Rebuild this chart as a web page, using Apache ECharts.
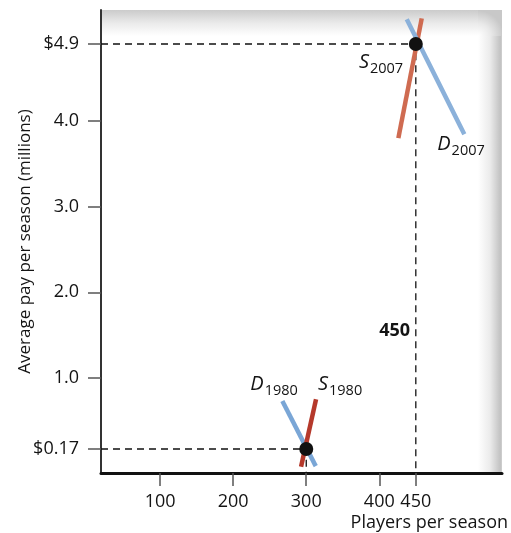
<!DOCTYPE html>
<html>
<head>
<meta charset="utf-8">
<script src="https://cdn.jsdelivr.net/npm/echarts@6/dist/echarts.min.js"></script>
<style>
html,body{margin:0;padding:0;background:#fff;}
#chart{width:511px;height:533px;}
</style>
</head>
<body>
<div id="chart"></div>
<script>
// ---- data ----
const xTicks = [100, 200, 300, 400, 450];
const yTicks = [0.17, 1.0, 2.0, 3.0, 4.0, 4.9];
const yTickLabels = ['$0.17', '1.0', '2.0', '3.0', '4.0', '$4.9'];
const supply2007 = [[426.1, 3.80], [458.1, 5.20]];
const demand2007 = [[437.6, 5.19], [516.4, 3.845]];
const supply1980 = [[292.9, -0.037], [313.4, 0.75]];
const demand1980 = [[267.3, 0.73], [313.0, -0.03]];
const equilibria = [[450, 4.9], [300, 0.17]];
const curveLabels = [
  {name: 'S', sub: '2007', pos: [402.4, 4.666]},
  {name: 'D', sub: '2007', pos: [511.9, 3.70]},
  {name: 'D', sub: '1980', pos: [256, 0.906]},
  {name: 'S', sub: '1980', pos: [346.3, 0.906]}
];
const qtyLabel = {text: '450', pos: [421.0, 1.547]};

const X_MIN = 19, X_MAX = 568, Y_MIN = -0.11, Y_MAX = 5.297;
const FONT = '"Open Sans", "Noto Sans", sans-serif';
const INK = '#141414';

function guide(pt) {
  return [[X_MIN, pt[1]], [pt[0], pt[1]], [pt[0], Y_MIN]];
}

const GRAY = '#c2c2c2';
const chart = echarts.init(document.getElementById('chart'));
const lineBase = {type: 'line', showSymbol: false, symbol: 'none', silent: true, animation: false};
chart.setOption({
  animation: false,
  grid: {left: 101, right: 9, top: 10, bottom: 60, containLabel: false, outerBoundsMode: 'none'},
  graphic: [
    {type: 'rect', z: -10, shape: {x: 101, y: 10, width: 377, height: 26},
     style: {fill: new echarts.graphic.LinearGradient(0, 0, 0, 1, [
       {offset: 0, color: '#cbcbcb'}, {offset: 0.5, color: '#eaeaea'}, {offset: 1, color: '#ffffff'}])}},
    {type: 'rect', z: -10, shape: {x: 478, y: 36, width: 24, height: 437},
     style: {fill: new echarts.graphic.LinearGradient(0, 0, 1, 0, [
       {offset: 0, color: '#ffffff'}, {offset: 0.5, color: '#ebebeb'}, {offset: 0.93, color: GRAY}, {offset: 1, color: '#d0d0d0'}])}},
    {type: 'rect', z: -10, shape: {x: 478, y: 10, width: 24, height: 26},
     style: {fill: new echarts.graphic.RadialGradient(0, 1, 1.05, [
       {offset: 0, color: '#ffffff'}, {offset: 0.5, color: '#e9e9e9'}, {offset: 1, color: '#c8c8c8'}])}},
    {type: 'text', z: 10, style: {text: 'Players per season', x: 508, y: 523, align: 'right', verticalAlign: 'middle',
      fontSize: 18, fontFamily: FONT, fill: INK}}
  ],
  xAxis: {
    type: 'value', min: X_MIN, max: X_MAX,
    axisLine: {onZero: false, lineStyle: {color: '#111', width: 3}},
    axisTick: {show: true, customValues: xTicks, length: 13, lineStyle: {color: '#555', width: 1.5}},
    axisLabel: {customValues: xTicks, margin: 20, fontSize: 18, color: INK, fontFamily: FONT},
    splitLine: {show: false}
  },
  yAxis: {
    type: 'value', min: Y_MIN, max: Y_MAX,
    name: 'Average pay per season (millions)', nameLocation: 'middle', nameGap: 67, nameMoveOverlap: false,
    nameTextStyle: {fontSize: 17, color: INK, fontFamily: FONT},
    axisLine: {show: true, onZero: false, lineStyle: {color: '#333', width: 2}},
    axisTick: {show: true, customValues: yTicks, length: 13, lineStyle: {color: '#555', width: 1.5}},
    axisLabel: {customValues: yTicks, margin: 22, fontSize: 18, color: INK, fontFamily: FONT,
      formatter: function (v) {
        for (let i = 0; i < yTicks.length; i++) if (Math.abs(yTicks[i] - v) < 1e-6) return yTickLabels[i];
        return '';
      }},
    splitLine: {show: false}
  },
  series: [
    Object.assign({}, lineBase, {name: 'guide2007', data: guide(equilibria[0]), z: 3,
      lineStyle: {color: '#111', width: 1.3, type: [7, 5]}}),
    Object.assign({}, lineBase, {name: 'guide1980', data: guide(equilibria[1]), z: 3,
      lineStyle: {color: '#111', width: 1.3, type: [7, 5]}}),
    Object.assign({}, lineBase, {name: 'S2007', data: supply2007, z: 4, lineStyle: {color: '#cf6b51', width: 4.5}}),
    Object.assign({}, lineBase, {name: 'D2007', data: demand2007, z: 5, lineStyle: {color: '#8bb1da', width: 4.5}}),
    Object.assign({}, lineBase, {name: 'D1980', data: demand1980, z: 4, lineStyle: {color: '#7aa6d6', width: 4.5}}),
    Object.assign({}, lineBase, {name: 'S1980', data: supply1980, z: 5, lineStyle: {color: '#b5392b', width: 4.5}}),
    {type: 'scatter', name: 'equilibrium', data: equilibria, symbolSize: 14, z: 6, silent: true,
      itemStyle: {color: '#111', opacity: 1}},
    {type: 'scatter', name: 'curveLabels', symbolSize: 0, z: 7, silent: true,
      itemStyle: {opacity: 1},
      data: curveLabels.map(l => ({value: l.pos, name: l.name})),
      label: {show: true, position: 'inside', fontFamily: FONT, opacity: 1,
        formatter: function (p) { return '{i|' + curveLabels[p.dataIndex].name + '}{s|' + curveLabels[p.dataIndex].sub + '}'; },
        rich: {
          i: {fontSize: 20, fontStyle: 'italic', color: INK, fontFamily: FONT, lineHeight: 24, verticalAlign: 'top'},
          s: {fontSize: 14.5, color: INK, fontFamily: FONT, lineHeight: 24, verticalAlign: 'bottom', padding: [9, 0, 0, 1]}
        }}},
    {type: 'scatter', name: 'qtyLabel', symbolSize: 0, z: 7, silent: true,
      itemStyle: {opacity: 1},
      data: [qtyLabel.pos],
      label: {show: true, position: 'inside', formatter: qtyLabel.text, fontSize: 18, fontWeight: 'bold',
        color: INK, fontFamily: FONT, opacity: 1}}
  ]
});
</script>
</body>
</html>
